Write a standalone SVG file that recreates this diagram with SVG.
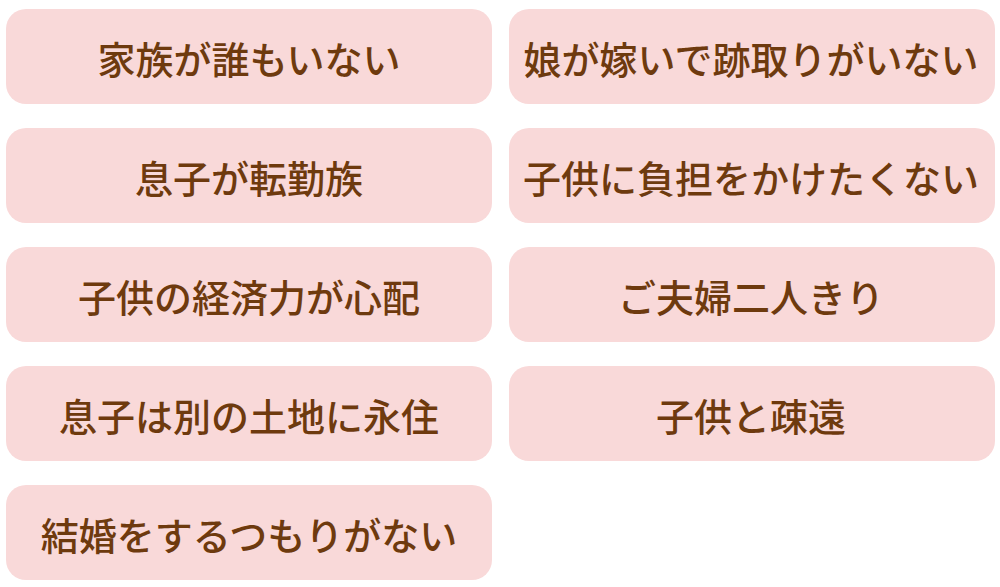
<svg xmlns="http://www.w3.org/2000/svg" width="1000" height="587" viewBox="0 0 1000 587">
<style>
.box{fill:#F9D9D9;}
.t{font-family:"Noto Sans CJK JP","Noto Sans CJK SC",sans-serif;font-size:38px;font-weight:500;fill:#6E3A0E;text-anchor:middle;dominant-baseline:central;}
</style>
<rect width="1000" height="587" fill="#FFFFFF"/>
<g id="connectors"></g>
<g id="n1"><rect class="box" x="6" y="9" width="486" height="95" rx="20"/><text class="t" x="249" y="57">家族が誰もいない</text></g>
<g id="n2"><rect class="box" x="509" y="9" width="486" height="95" rx="20"/><text class="t" x="751" y="57">娘が嫁いで跡取りがいない</text></g>
<g id="n3"><rect class="box" x="6" y="128" width="486" height="95" rx="20"/><text class="t" x="249" y="176">息子が転勤族</text></g>
<g id="n4"><rect class="box" x="509" y="128" width="486" height="95" rx="20"/><text class="t" x="751" y="176">子供に負担をかけたくない</text></g>
<g id="n5"><rect class="box" x="6" y="247" width="486" height="95" rx="20"/><text class="t" x="249" y="295">子供の経済力が心配</text></g>
<g id="n6"><rect class="box" x="509" y="247" width="486" height="95" rx="20"/><text class="t" x="751" y="295">ご夫婦二人きり</text></g>
<g id="n7"><rect class="box" x="6" y="366" width="486" height="95" rx="20"/><text class="t" x="249" y="414">息子は別の土地に永住</text></g>
<g id="n8"><rect class="box" x="509" y="366" width="486" height="95" rx="20"/><text class="t" x="751" y="414">子供と疎遠</text></g>
<g id="n9"><rect class="box" x="6" y="485" width="486" height="95" rx="20"/><text class="t" x="249" y="533">結婚をするつもりがない</text></g>
</svg>
